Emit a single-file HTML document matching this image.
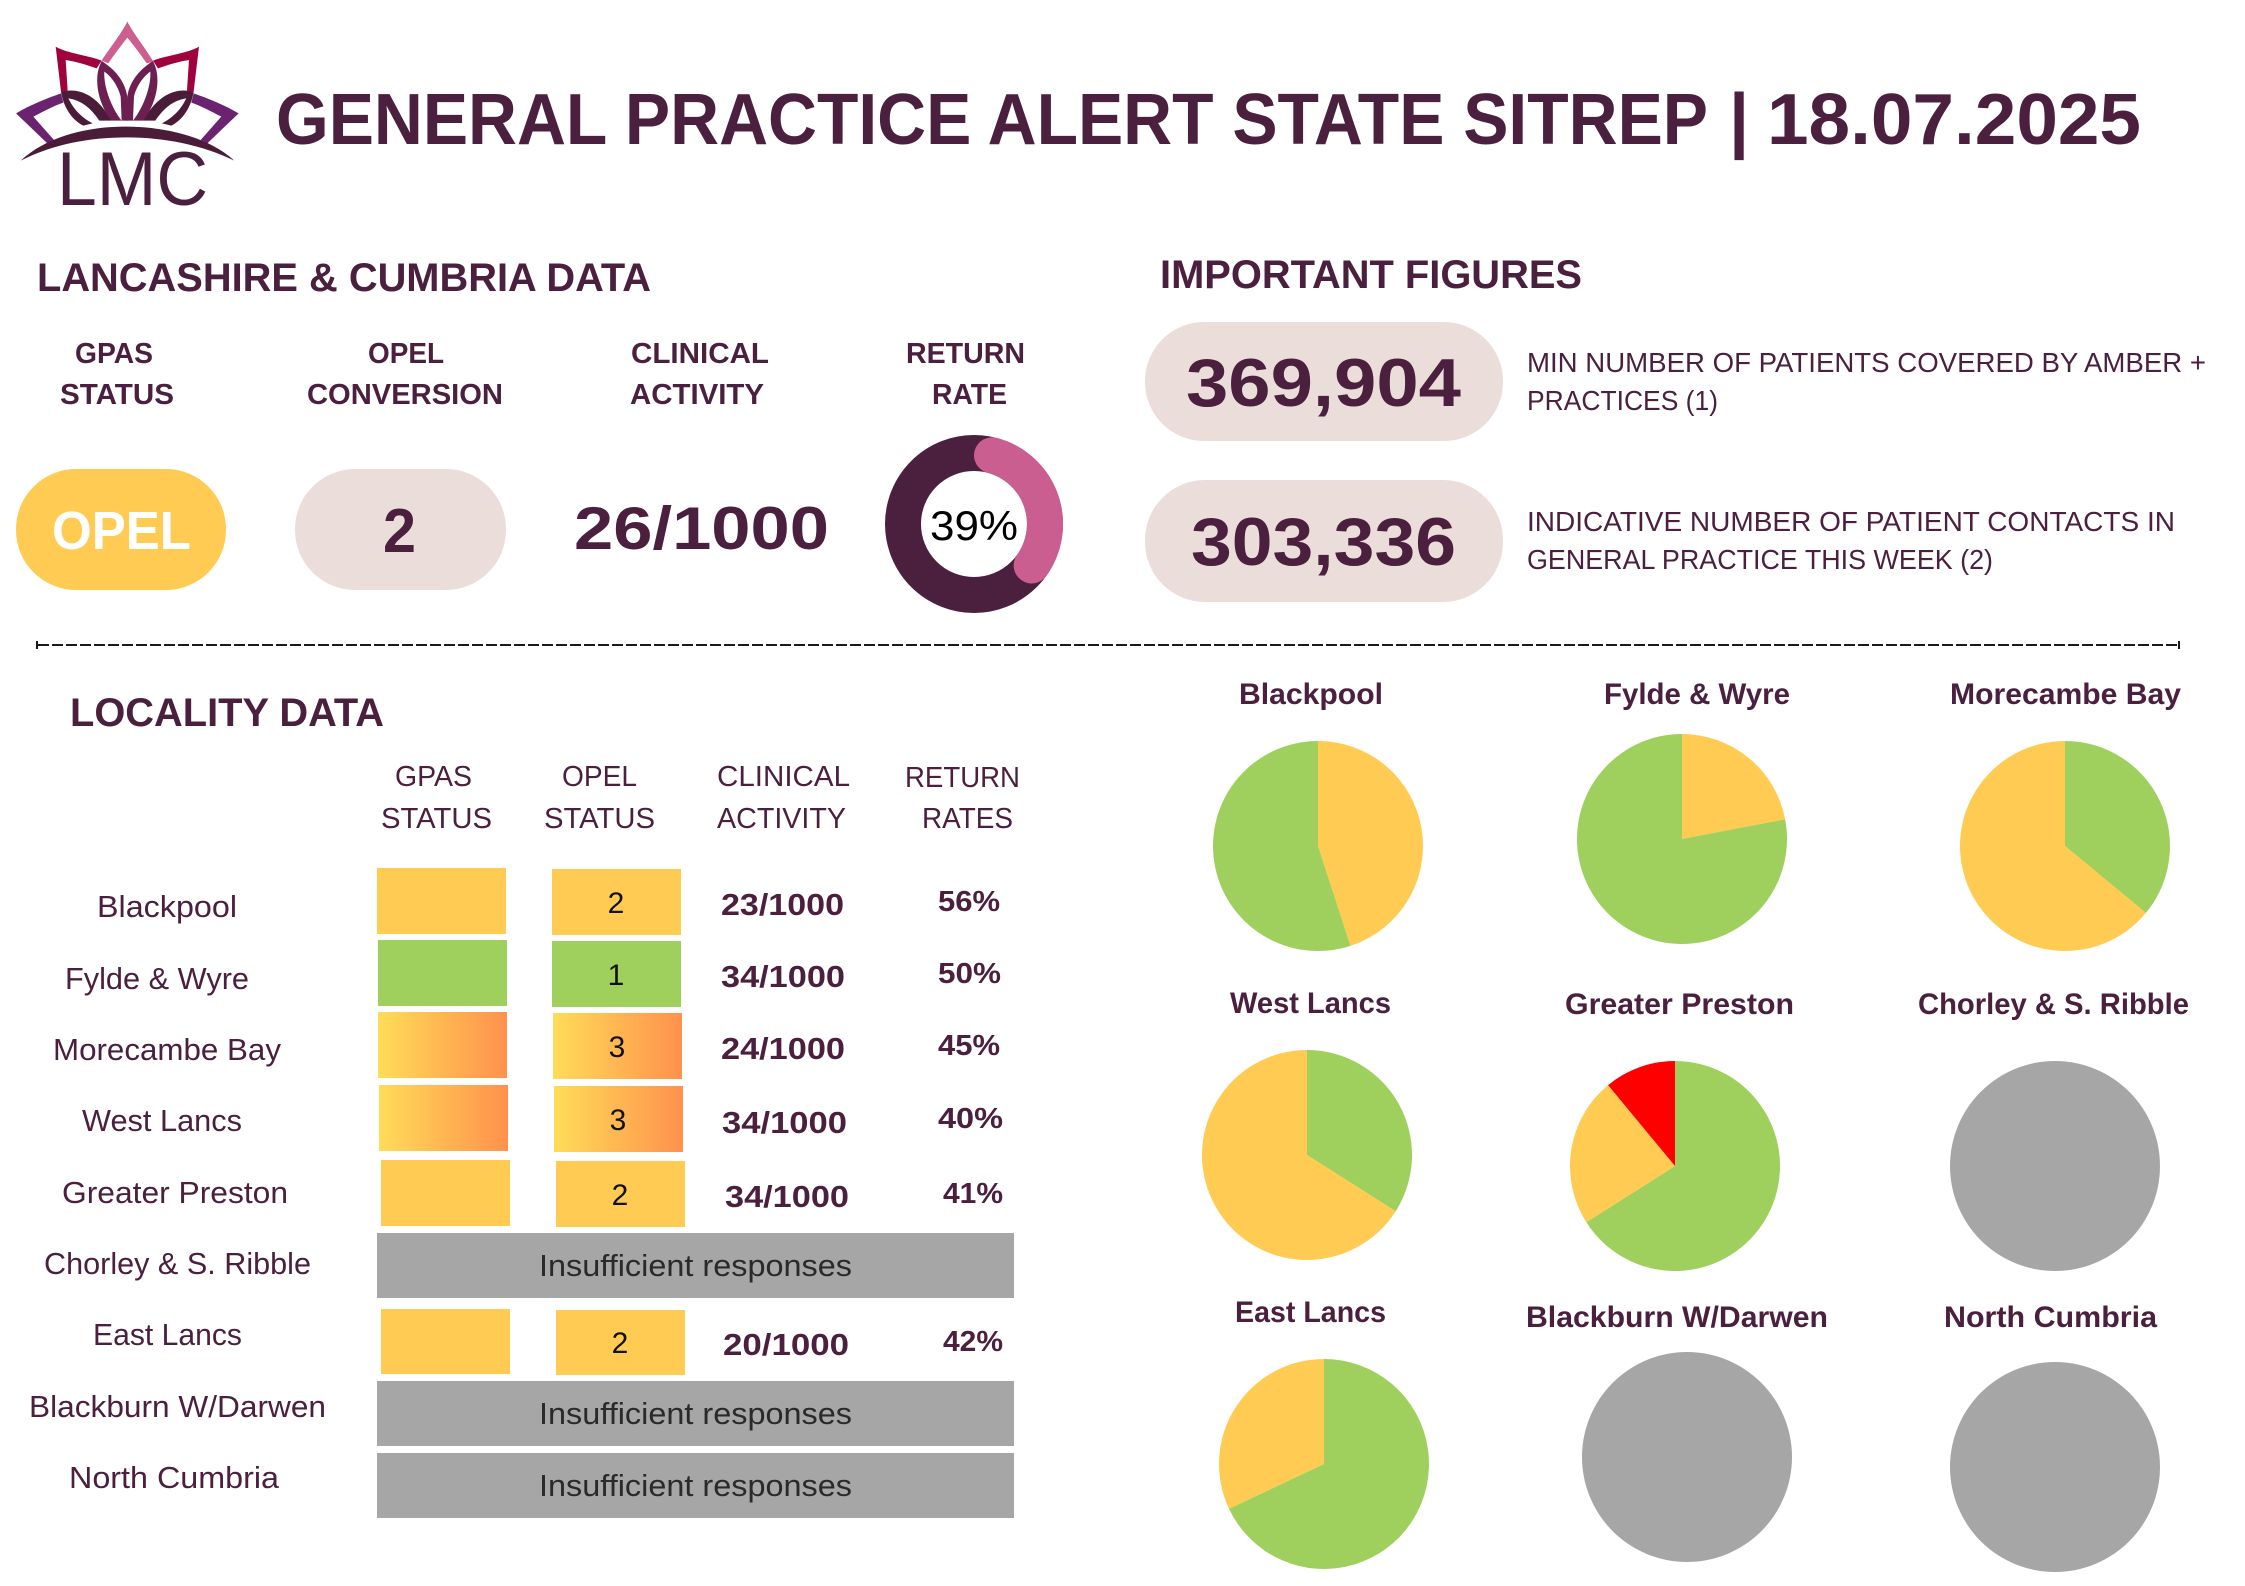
<!DOCTYPE html>
<html lang="en">
<head>
<meta charset="utf-8">
<title>General Practice Alert State Sitrep</title>
<style>
html,body{margin:0;padding:0;background:#fff;}
svg{display:block;}
text{font-family:"Liberation Sans",sans-serif;fill:#4b203e;}
.b{font-weight:700;}
.t{text-anchor:start;}
.hdr{font-size:29px;font-weight:700;}
.lab{font-size:29px;}
.sub{font-size:28px;}
.lbl{font-size:31px;}
.num{font-size:30px;fill:#111;text-anchor:middle;}
.cli{font-size:31px;font-weight:700;}
.ret{font-size:29px;font-weight:700;}
.ins{font-size:31px;fill:#2a2a2a;}
.pt{font-size:30px;font-weight:700;}
</style>
</head>
<body>
<svg xmlns="http://www.w3.org/2000/svg" width="2245" height="1586" viewBox="0 0 2245 1586">
<defs>
<linearGradient id="hot" x1="0" x2="1" y1="0" y2="0"><stop offset="0" stop-color="#ffdc58"/><stop offset="1" stop-color="#ff914d"/></linearGradient>
<g id="half">
<path fill="#a0023e" d="M167 140C200 160 260 165 305 182L290 205C260 195 230 185 197 180L203 272L183 275Z"/>
<path fill="#6b2370" d="M48 340C90 315 140 295 183 280L190 308C160 318 130 335 100 350L162 420L142 430Z"/>
<path fill="#4a1c38" d="M183 275C240 262 290 285 335 362L298 362C270 320 240 300 205 295C225 335 250 355 278 370L250 377C215 360 190 320 183 275Z"/>
<path fill="#6d1f52" d="M305 183C340 205 375 240 382 290L385 362L365 362L362 290C355 260 335 230 313 215C310 260 335 325 365 362L335 362C300 320 275 240 305 183Z"/>
</g>
</defs>
<rect width="2245" height="1586" fill="#fff"/>

<g>
<g transform="scale(0.3333)">
<path fill="#cc5e90" d="M382 65C400 100 440 150 460 185L440 190C420 160 400 135 382 113C365 135 345 160 325 190L305 182C325 150 365 100 382 65Z"/>
<use href="#half"/>
<use href="#half" transform="translate(764,0) scale(-1,1)"/>
<path fill="#4a1c38" d="M62 482C150 400 290 378 382 380C480 380 620 405 703 482C610 435 490 412 382 412C270 412 160 432 62 482Z"/>
</g>
<text x="57" y="205" font-size="76" textLength="151" lengthAdjust="spacingAndGlyphs">LMC</text>
</g>

<g>
<text class="b" x="276" y="144" font-size="72" textLength="1432" lengthAdjust="spacingAndGlyphs">GENERAL PRACTICE ALERT STATE SITREP</text>
<text class="b" x="1729" y="144" font-size="72">|</text>
<text class="b" x="1767" y="144" font-size="72" textLength="374" lengthAdjust="spacingAndGlyphs">18.07.2025</text>
</g>

<text class="b" x="37" y="291" font-size="40" textLength="614" lengthAdjust="spacingAndGlyphs">LANCASHIRE &amp; CUMBRIA DATA</text>
<text class="hdr" x="75" y="363" textLength="78" lengthAdjust="spacingAndGlyphs">GPAS</text>
<text class="hdr" x="60" y="404" textLength="114" lengthAdjust="spacingAndGlyphs">STATUS</text>
<text class="hdr" x="368" y="363" textLength="76" lengthAdjust="spacingAndGlyphs">OPEL</text>
<text class="hdr" x="307" y="404" textLength="196" lengthAdjust="spacingAndGlyphs">CONVERSION</text>
<text class="hdr" x="631" y="363" textLength="138" lengthAdjust="spacingAndGlyphs">CLINICAL</text>
<text class="hdr" x="630" y="404" textLength="134" lengthAdjust="spacingAndGlyphs">ACTIVITY</text>
<text class="hdr" x="906" y="363" textLength="119" lengthAdjust="spacingAndGlyphs">RETURN</text>
<text class="hdr" x="932" y="404" textLength="75" lengthAdjust="spacingAndGlyphs">RATE</text>

<rect x="16" y="469" width="210" height="121" rx="60" fill="#ffcb52"/>
<text class="b" x="52" y="549" font-size="54" style="fill:#fff" textLength="139" lengthAdjust="spacingAndGlyphs">OPEL</text>
<rect x="295" y="469" width="211" height="121" rx="60" fill="#ebdeda"/>
<text class="b" x="383" y="552" font-size="62" textLength="33" lengthAdjust="spacingAndGlyphs">2</text>
<text class="b" x="574" y="549" font-size="60" textLength="255" lengthAdjust="spacingAndGlyphs">26/1000</text>

<g id="ring" transform="translate(974,524)"></g>

<text class="b" x="1160" y="288" font-size="40" textLength="422" lengthAdjust="spacingAndGlyphs">IMPORTANT FIGURES</text>
<rect x="1145" y="322" width="358" height="119" rx="59" fill="#ebdeda"/>
<text class="b" x="1186" y="406" font-size="68" textLength="275" lengthAdjust="spacingAndGlyphs">369,904</text>
<rect x="1145" y="480" width="358" height="122" rx="60" fill="#ebdeda"/>
<text class="b" x="1191" y="565" font-size="68" textLength="265" lengthAdjust="spacingAndGlyphs">303,336</text>
<text class="sub" x="1527" y="372" textLength="679" lengthAdjust="spacingAndGlyphs">MIN NUMBER OF PATIENTS COVERED BY AMBER +</text>
<text class="sub" x="1527" y="410" textLength="191" lengthAdjust="spacingAndGlyphs">PRACTICES (1)</text>
<text class="sub" x="1527" y="531" textLength="648" lengthAdjust="spacingAndGlyphs">INDICATIVE NUMBER OF PATIENT CONTACTS IN</text>
<text class="sub" x="1527" y="569" textLength="466" lengthAdjust="spacingAndGlyphs">GENERAL PRACTICE THIS WEEK (2)</text>

<g>
<line x1="38" y1="645" x2="2178" y2="645" stroke="#1a1a1a" stroke-width="2" stroke-dasharray="11 3"/>
<line x1="37" y1="641" x2="37" y2="649" stroke="#1a1a1a" stroke-width="2"/>
<line x1="2179" y1="641" x2="2179" y2="649" stroke="#1a1a1a" stroke-width="2"/>
</g>

<text class="b" x="70" y="726" font-size="40" textLength="314" lengthAdjust="spacingAndGlyphs">LOCALITY DATA</text>
<text class="lab" x="395" y="786" textLength="77" lengthAdjust="spacingAndGlyphs">GPAS</text>
<text class="lab" x="381" y="828" textLength="111" lengthAdjust="spacingAndGlyphs">STATUS</text>
<text class="lab" x="562" y="786" textLength="75" lengthAdjust="spacingAndGlyphs">OPEL</text>
<text class="lab" x="544" y="828" textLength="111" lengthAdjust="spacingAndGlyphs">STATUS</text>
<text class="lab" x="717" y="786" textLength="133" lengthAdjust="spacingAndGlyphs">CLINICAL</text>
<text class="lab" x="717" y="828" textLength="129" lengthAdjust="spacingAndGlyphs">ACTIVITY</text>
<text class="lab" x="905" y="787" textLength="115" lengthAdjust="spacingAndGlyphs">RETURN</text>
<text class="lab" x="922" y="828" textLength="91" lengthAdjust="spacingAndGlyphs">RATES</text>

<g>
<text class="lbl" x="97" y="917" textLength="140" lengthAdjust="spacingAndGlyphs">Blackpool</text>
<text class="lbl" x="65" y="989" textLength="184" lengthAdjust="spacingAndGlyphs">Fylde &amp; Wyre</text>
<text class="lbl" x="53" y="1060" textLength="228" lengthAdjust="spacingAndGlyphs">Morecambe Bay</text>
<text class="lbl" x="82" y="1131" textLength="160" lengthAdjust="spacingAndGlyphs">West Lancs</text>
<text class="lbl" x="62" y="1203" textLength="226" lengthAdjust="spacingAndGlyphs">Greater Preston</text>
<text class="lbl" x="44" y="1274" textLength="267" lengthAdjust="spacingAndGlyphs">Chorley &amp; S. Ribble</text>
<text class="lbl" x="93" y="1345" textLength="149" lengthAdjust="spacingAndGlyphs">East Lancs</text>
<text class="lbl" x="29" y="1417" textLength="297" lengthAdjust="spacingAndGlyphs">Blackburn W/Darwen</text>
<text class="lbl" x="69" y="1488" textLength="210" lengthAdjust="spacingAndGlyphs">North Cumbria</text>
</g>

<g>
<rect x="377" y="868" width="129" height="66" fill="#ffcb52"/>
<rect x="378" y="940" width="129" height="66" fill="#9fcf5c"/>
<rect x="378" y="1012" width="129" height="66" fill="url(#hot)"/>
<rect x="379" y="1085" width="129" height="66" fill="url(#hot)"/>
<rect x="381" y="1160" width="129" height="66" fill="#ffcb52"/>
<rect x="381" y="1309" width="129" height="65" fill="#ffcb52"/>
</g>
<g>
<rect x="552" y="869" width="129" height="66" fill="#ffcb52"/>
<rect x="552" y="941" width="129" height="66" fill="#9fcf5c"/>
<rect x="553" y="1013" width="129" height="66" fill="url(#hot)"/>
<rect x="554" y="1086" width="129" height="66" fill="url(#hot)"/>
<rect x="556" y="1161" width="129" height="66" fill="#ffcb52"/>
<rect x="556" y="1310" width="129" height="65" fill="#ffcb52"/>
<text class="num" x="616" y="913">2</text>
<text class="num" x="616" y="985">1</text>
<text class="num" x="617" y="1057">3</text>
<text class="num" x="618" y="1130">3</text>
<text class="num" x="620" y="1205">2</text>
<text class="num" x="620" y="1353">2</text>
</g>
<g>
<text class="cli" x="721" y="915" textLength="123" lengthAdjust="spacingAndGlyphs">23/1000</text>
<text class="cli" x="721" y="987" textLength="124" lengthAdjust="spacingAndGlyphs">34/1000</text>
<text class="cli" x="721" y="1059" textLength="124" lengthAdjust="spacingAndGlyphs">24/1000</text>
<text class="cli" x="722" y="1133" textLength="125" lengthAdjust="spacingAndGlyphs">34/1000</text>
<text class="cli" x="725" y="1207" textLength="124" lengthAdjust="spacingAndGlyphs">34/1000</text>
<text class="cli" x="723" y="1355" textLength="126" lengthAdjust="spacingAndGlyphs">20/1000</text>
</g>
<g>
<text class="ret" x="938" y="911" textLength="62" lengthAdjust="spacingAndGlyphs">56%</text>
<text class="ret" x="938" y="983" textLength="63" lengthAdjust="spacingAndGlyphs">50%</text>
<text class="ret" x="938" y="1055" textLength="62" lengthAdjust="spacingAndGlyphs">45%</text>
<text class="ret" x="938" y="1128" textLength="65" lengthAdjust="spacingAndGlyphs">40%</text>
<text class="ret" x="943" y="1203" textLength="60" lengthAdjust="spacingAndGlyphs">41%</text>
<text class="ret" x="943" y="1351" textLength="60" lengthAdjust="spacingAndGlyphs">42%</text>
</g>
<g>
<rect x="377" y="1233" width="637" height="65" fill="#a6a6a6"/>
<text class="ins" x="539" y="1276" textLength="313" lengthAdjust="spacingAndGlyphs">Insufficient responses</text>
<rect x="377" y="1381" width="637" height="65" fill="#a6a6a6"/>
<text class="ins" x="539" y="1424" textLength="313" lengthAdjust="spacingAndGlyphs">Insufficient responses</text>
<rect x="377" y="1453" width="637" height="65" fill="#a6a6a6"/>
<text class="ins" x="539" y="1496" textLength="313" lengthAdjust="spacingAndGlyphs">Insufficient responses</text>
</g>

<g>
<text class="pt" x="1239" y="704" textLength="144" lengthAdjust="spacingAndGlyphs">Blackpool</text>
<text class="pt" x="1604" y="704" textLength="186" lengthAdjust="spacingAndGlyphs">Fylde &amp; Wyre</text>
<text class="pt" x="1950" y="704" textLength="231" lengthAdjust="spacingAndGlyphs">Morecambe Bay</text>
<text class="pt" x="1230" y="1013" textLength="161" lengthAdjust="spacingAndGlyphs">West Lancs</text>
<text class="pt" x="1565" y="1014" textLength="229" lengthAdjust="spacingAndGlyphs">Greater Preston</text>
<text class="pt" x="1918" y="1014" textLength="271" lengthAdjust="spacingAndGlyphs">Chorley &amp; S. Ribble</text>
<text class="pt" x="1235" y="1322" textLength="151" lengthAdjust="spacingAndGlyphs">East Lancs</text>
<text class="pt" x="1526" y="1327" textLength="302" lengthAdjust="spacingAndGlyphs">Blackburn W/Darwen</text>
<text class="pt" x="1944" y="1327" textLength="213" lengthAdjust="spacingAndGlyphs">North Cumbria</text>
</g>

<g class="pie" transform="translate(1318,846)"></g>
<g class="pie" transform="translate(1682,839)"></g>
<g class="pie" transform="translate(2065,846)"></g>
<g class="pie" transform="translate(1307,1155)"></g>
<g class="pie" transform="translate(1675,1166)"></g>
<g class="pie" transform="translate(2055,1166)"></g>
<g class="pie" transform="translate(1324,1464)"></g>
<g class="pie" transform="translate(1687,1457)"></g>
<g class="pie" transform="translate(2055,1467)"></g>
</svg>

<script>
const categories = ['Blackpool','Fylde & Wyre','Morecambe Bay','West Lancs','Greater Preston','Chorley & S. Ribble','East Lancs','Blackburn W/Darwen','North Cumbria'];
const greenValues = [55,78,36,34,66,0,68,0,0];
const amberValues = [45,22,64,66,23,0,32,0,0];
const redValues = [0,0,0,0,11,0,0,0,0];
const noDataValues = [0,0,0,0,0,100,0,100,100];
const sliceOrders = [
  ['amber','green'],['amber','green'],['green','amber'],
  ['green','amber'],['green','amber','red'],['grey'],
  ['green','amber'],['grey'],['grey']
];
const returnRateValues = [39];

const SVGNS = 'http://www.w3.org/2000/svg';
const pieRadius = 105;
const pieColors = {green:'#9fcf5c', amber:'#ffcb52', red:'#ff0000', grey:'#a6a6a6'};
const seriesValues = {green:greenValues, amber:amberValues, red:redValues, grey:noDataValues};

function angleScale(value, total) { return value / total * 2 * Math.PI; }
function polar(r, a) { return [r * Math.sin(a), -r * Math.cos(a)]; }

document.querySelectorAll('.pie').forEach(function (group, i) {
  const order = sliceOrders[i];
  let total = 0;
  order.forEach(function (key) { total += seriesValues[key][i]; });
  let start = 0;
  order.forEach(function (key) {
    const v = seriesValues[key][i];
    if (v <= 0) return;
    const sweep = angleScale(v, total);
    let el;
    if (sweep >= 2 * Math.PI - 1e-6) {
      el = document.createElementNS(SVGNS, 'circle');
      el.setAttribute('r', pieRadius);
    } else {
      const p0 = polar(pieRadius, start);
      const p1 = polar(pieRadius, start + sweep);
      el = document.createElementNS(SVGNS, 'path');
      el.setAttribute('d', 'M0 0L' + p0[0] + ' ' + p0[1] + 'A' + pieRadius + ' ' + pieRadius + ' 0 ' + (sweep > Math.PI ? 1 : 0) + ' 1 ' + p1[0] + ' ' + p1[1] + 'Z');
    }
    el.setAttribute('fill', pieColors[key]);
    
    
    group.appendChild(el);
    start += sweep;
  });
});

(function () {
  const ring = document.getElementById('ring');
  const ringRadius = 71;
  const ringWidth = 36;
  const rate = returnRateValues[0];
  const track = document.createElementNS(SVGNS, 'circle');
  track.setAttribute('r', ringRadius);
  track.setAttribute('fill', 'none');
  track.setAttribute('stroke', '#4b203e');
  track.setAttribute('stroke-width', ringWidth);
  
  
  ring.appendChild(track);
  const cap = Math.asin(ringWidth / 2 / ringRadius);
  const a0 = cap;
  const a1 = angleScale(rate, 100) - cap;
  const p0 = polar(ringRadius, a0);
  const p1 = polar(ringRadius, a1);
  const arc = document.createElementNS(SVGNS, 'path');
  arc.setAttribute('d', 'M' + p0[0] + ' ' + p0[1] + 'A' + ringRadius + ' ' + ringRadius + ' 0 ' + (a1 - a0 > Math.PI ? 1 : 0) + ' 1 ' + p1[0] + ' ' + p1[1]);
  arc.setAttribute('fill', 'none');
  arc.setAttribute('stroke', '#cb5e90');
  arc.setAttribute('stroke-width', ringWidth);
  arc.setAttribute('stroke-linecap', 'round');
  
  
  ring.appendChild(arc);
  const label = document.createElementNS(SVGNS, 'text');
  label.textContent = rate + '%';
  label.setAttribute('x', '-44');
  label.setAttribute('y', '16');
  label.setAttribute('font-size', '42');
  label.setAttribute('textLength', '88');
  label.setAttribute('lengthAdjust', 'spacingAndGlyphs');
  label.setAttribute('style', 'fill:#000');
  
  
  ring.appendChild(label);
})();
</script>
</body>
</html>
